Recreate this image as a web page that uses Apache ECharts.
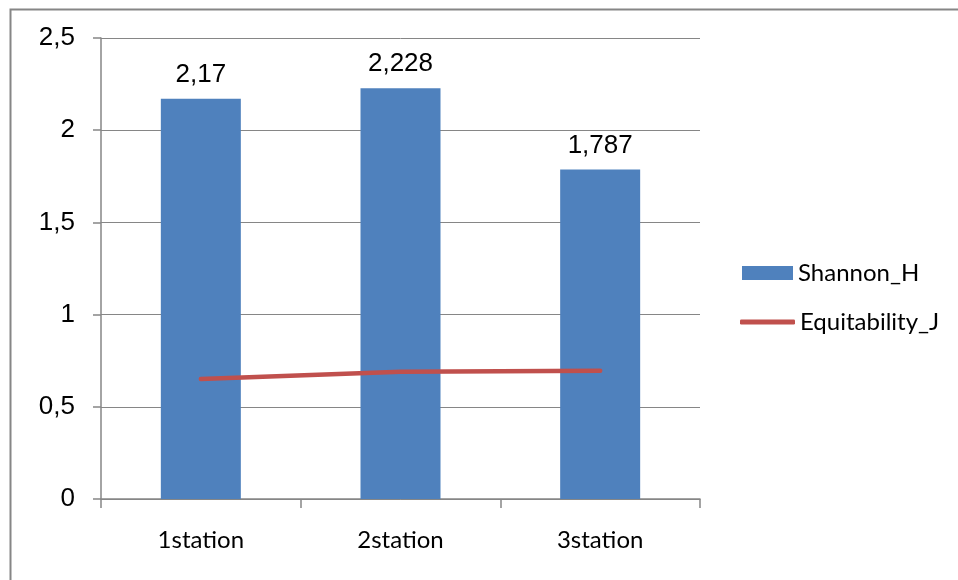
<!DOCTYPE html>
<html>
<head>
<meta charset="utf-8">
<script src="https://cdn.jsdelivr.net/npm/echarts@6/dist/echarts.min.js"></script>
<style>
html, body { margin: 0; padding: 0; background: #fff; }
#chart { width: 958px; height: 580px; }
</style>
</head>
<body>
<div id="chart"></div>
<script>
// Diversity indices per sampling station
const stations = ['1station', '2station', '3station'];
const shannonH = [2.17, 2.228, 1.787];
const equitabilityJ = [0.651, 0.69, 0.696];
const yTicks = [0, 0.5, 1, 1.5, 2, 2.5];

const comma = v => String(v).replace('.', ',');
const sansFont = '"Liberation Sans", Arial, sans-serif';
const bodyFont = 'Lato, "Open Sans", sans-serif';

const chart = echarts.init(document.getElementById('chart'), null, { renderer: 'canvas' });
chart.setOption({
  animation: false,
  backgroundColor: '#fff',
  graphic: [{
    type: 'rect',
    shape: { x: 10.5, y: 9.5, width: 1000, height: 700 },
    style: { fill: 'none', stroke: '#868686', lineWidth: 2 },
    silent: true
  }],
  grid: { left: 101, top: 38, right: 258, bottom: 81, containLabel: false },
  legend: [
    {
      orient: 'vertical',
      left: 742,
      top: 261,
      padding: 0,
      itemWidth: 51,
      itemHeight: 14,
      textStyle: { fontFamily: bodyFont, fontSize: 24, color: '#000' },
      data: [{ name: 'Shannon_H', icon: 'rect' }]
    },
    {
      orient: 'vertical',
      left: 740,
      top: 310,
      padding: 0,
      itemWidth: 55,
      itemHeight: 5,
      textStyle: { fontFamily: bodyFont, fontSize: 24, color: '#000' },
      data: [{ name: 'Equitability_J', icon: 'roundRect', itemStyle: { color: '#C0504D' } }]
    }
  ],
  xAxis: {
    type: 'category',
    data: stations,
    boundaryGap: true,
    axisLine: { lineStyle: { color: '#868686', width: 1.5 } },
    axisTick: { show: true, length: 9, alignWithLabel: false, lineStyle: { color: '#868686', width: 1.5 } },
    axisLabel: { margin: 29, fontFamily: bodyFont, fontSize: 24, color: '#000' }
  },
  yAxis: {
    type: 'value',
    min: yTicks[0],
    max: yTicks[yTicks.length - 1],
    interval: 0.5,
    axisLine: { show: true, lineStyle: { color: '#868686', width: 1.5 } },
    axisTick: { show: true, length: 8, lineStyle: { color: '#868686', width: 1.5 } },
    splitLine: { show: true, lineStyle: { color: '#868686', width: 1 } },
    axisLabel: { margin: 26, fontFamily: sansFont, fontSize: 26, color: '#000', formatter: v => comma(v) }
  },
  series: [
    {
      name: 'Shannon_H',
      type: 'bar',
      data: shannonH,
      barWidth: 80,
      itemStyle: { color: '#4F81BD' },
      label: {
        show: true,
        position: 'top',
        distance: 11,
        fontFamily: sansFont,
        fontSize: 26,
        color: '#000',
        formatter: p => comma(p.value)
      }
    },
    {
      name: 'Equitability_J',
      type: 'line',
      data: equitabilityJ,
      symbol: 'none',
      lineStyle: { color: '#C0504D', width: 4.5, cap: 'round' },
      itemStyle: { color: '#C0504D' }
    }
  ]
});
</script>
</body>
</html>
